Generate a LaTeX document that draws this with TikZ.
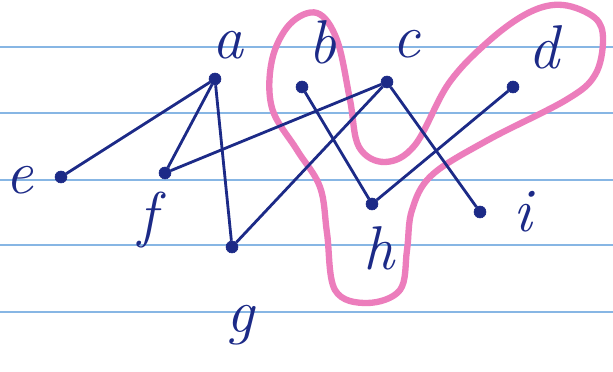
\documentclass[tikz,border=0pt]{standalone}
\usepackage{fontspec}
\usepackage{tikz}
\usetikzlibrary{positioning}
\definecolor{ink}{RGB}{28,42,135}
\definecolor{ruling}{RGB}{135,182,228}
\definecolor{marker}{RGB}{236,125,188}

\begin{document}
\begin{tikzpicture}[
  dot/.style={circle, fill=ink, draw=ink, inner sep=0pt, minimum size=0.3cm},
  lbl/.style={inner sep=0pt, text=ink, font=\fontsize{44}{48}\selectfont\itshape},
  edge/.style={draw=ink, line width=2pt},
  rule/.style={draw=ruling, line width=2.1pt},
  blob/.style={draw=marker, line width=4.5pt}
]
\useasboundingbox (0,0) rectangle (15.325,9.3);
\fill[white] (0,0) rectangle (15.325,9.3);
\foreach \y in {8.125,6.475,4.8,3.175,1.5}
  \draw[rule] (0,\y) -- (15.325,\y);

\draw[blob] plot[smooth cycle, tension=0.6] coordinates {
  (7.925,8.975) (8.425,8.3) (8.75,6.8) (8.975,5.625) (9.625,5.25) (10.375,5.675)
  (11.225,7.225) (12.25,8.3) (13.25,9.0) (14.075,9.175) (14.875,8.85) (15.075,8.3)
  (14.875,7.425) (14.15,6.8) (12.2,5.8) (10.8,4.925) (10.3,4.05) (10.175,3.05)
  (10.0,2.05) (9.175,1.725) (8.375,2.05) (8.175,3.475) (8.0,4.625) (7.425,5.55)
  (6.8,6.6) (6.8,7.8) (7.25,8.7)};

\node[dot] (a) at (5.375,7.325) {};
\node[dot] (b) at (7.55,7.125) {};
\node[dot] (c) at (9.675,7.25) {};
\node[dot] (d) at (12.825,7.125) {};
\node[dot] (e) at (1.525,4.875) {};
\node[dot] (f) at (4.125,4.975) {};
\node[dot] (g) at (5.8,3.125) {};
\node[dot] (h) at (9.3,4.2) {};
\node[dot] (i) at (12.0,4.0) {};

\node[lbl] (la) at (5.7,8.175) {a};
\node[lbl] (lb) at (8.05,8.25) {b};
\node[lbl] (lc) at (10.15,8.2) {c};
\node[lbl] (ld) at (13.6,8.125) {d};
\node[lbl] (le) at (0.475,4.8) {e};
\node[lbl] (lf) at (3.7,3.8) {f};
\node[lbl] (lg) at (6.0,1.175) {g};
\node[lbl] (lh) at (9.475,3.1) {h};
\node[lbl] (li) at (13.075,4.0) {i};

\draw[edge] (a) -- (e);
\draw[edge] (a) -- (f);
\draw[edge] (a) -- (g);
\draw[edge] (f) -- (c);
\draw[edge] (g) -- (c);
\draw[edge] (b) -- (h);
\draw[edge] (h) -- (d);
\draw[edge] (c) -- (i);
\end{tikzpicture}
\end{document}
